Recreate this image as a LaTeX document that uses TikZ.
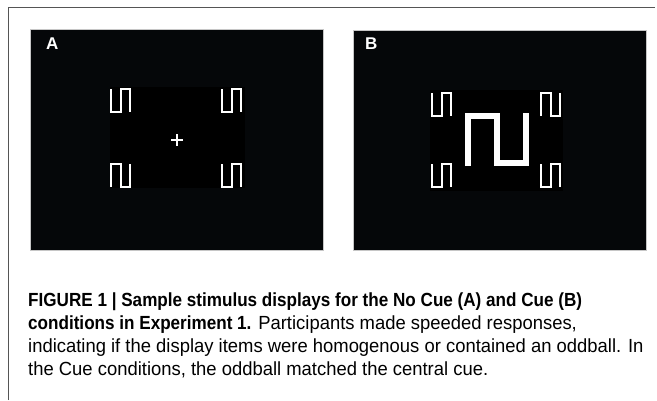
\documentclass[tikz,border=0pt]{standalone}
\usepackage{fontspec}
\setmainfont{Liberation Sans}
\newfontfamily\capfont[FakeStretch=0.97]{Liberation Sans}
\newfontfamily\capbold[FakeStretch=0.90]{Liberation Sans}
\definecolor{panelbg}{RGB}{5,7,9}
\definecolor{framegray}{RGB}{85,85,85}
\tikzset{%
    panel/.style={%
        fill=panelbg,
        draw=gray!45,
        line width=0.6pt
    },
    itemline/.style={%
        draw=white,
        line width=2pt
    },
    cueline/.style={%
        draw=white,
        line width=6pt
    },
    panellabel/.style={%
        text=white,
        font=\bfseries\fontsize{17}{17}\selectfont,
        anchor=north west,
        inner sep=0pt
    },
    upat/.pic={\draw[itemline] (0,0) -- (0,23) -- (9.5,23) -- (9.5,0) -- (19,0) -- (19,23);},
    npat/.pic={\draw[itemline] (0,23) -- (0,0) -- (9.5,0) -- (9.5,23) -- (19,23) -- (19,0);}
}

\begin{document}
\begin{tikzpicture}[x=1pt,y=-1pt]
    \useasboundingbox (0,0) rectangle (657,400);
    \draw[framegray, line width=1pt] (8,400) -- (8,7) -- (655,7);
    % panel A: no cue
    \draw[panel] (30,29) rectangle (323,250);
    \fill[black] (110,87) rectangle (245,188);
    \node[panellabel] (labA) at (46,38) {A};
    \pic at (111,89) {upat};
    \pic at (222,89) {upat};
    \pic at (111,164) {npat};
    \pic at (222,164) {upat};
    \draw[itemline] (171,140) -- (183,140) (177,134) -- (177,146);
    % panel B: cue
    \draw[panel] (353,30) rectangle (646,250);
    \fill[black] (430,90) rectangle (563,191);
    \node[panellabel] (labB) at (365,38) {B};
    \pic at (432,93) {upat};
    \pic at (541,93) {npat};
    \pic at (432,164) {upat};
    \pic at (541,164) {upat};
    \draw[cueline] (468,166) -- (468,116) -- (497,116) -- (497,163) -- (526,163) -- (526,113);
    % caption
    \node[anchor=base west, align=left, inner sep=0pt,
          font=\capfont\fontsize{19}{23}\selectfont] (caption) at (28,375)
        {{\capbold\bfseries FIGURE 1 | Sample stimulus displays for the No Cue (A) and Cue (B)}\\
         {\capbold\bfseries conditions in Experiment 1.} Participants made speeded responses,\\
         indicating if the display items were homogenous or contained an oddball. In\\
         the Cue conditions, the oddball matched the central cue.};
\end{tikzpicture}
\end{document}
